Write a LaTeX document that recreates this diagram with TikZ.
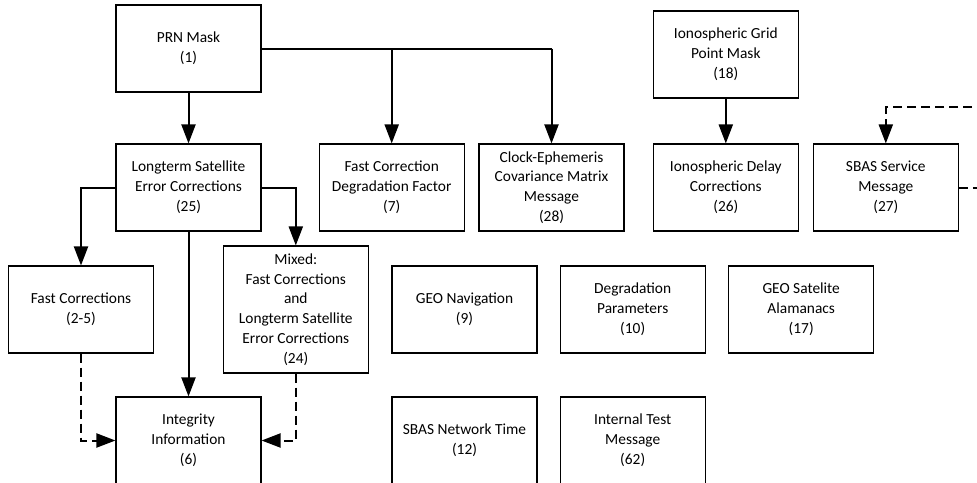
\documentclass[tikz,border=0pt]{standalone}
\usepackage{fontspec}
\setmainfont{Carlito}
\usetikzlibrary{arrows.meta}
\begin{document}
\begin{tikzpicture}[x=1pt,y=-1pt,
  box/.style={draw=black,line width=1.1pt,minimum width=145pt,minimum height=87pt,
    align=center,inner sep=0pt,font=\fontsize{15.4}{19.8}\selectfont},
  tip/.style={-{Triangle[length=19pt 0,width=14pt 0]}},
  conn/.style={line width=2pt,tip},
  plain/.style={line width=2pt},
  dconn/.style={line width=2pt,dash pattern=on 9pt off 5pt,tip},
  dplain/.style={line width=2pt,dash pattern=on 9pt off 5pt}]
\clip (0,0) rectangle (977,482);
\fill[white] (0,0) rectangle (977,482);
\node[box] (prn) at (188.5,48.5) {PRN Mask\\(1)};
\node[box] (lt) at (188.5,187.5) {Longterm Satellite\\Error Corrections\\(25)};
\node[box] (fcdf) at (391.7,187.5) {Fast Correction\\Degradation Factor\\(7)};
\node[box] (cecm) at (551.5,187.5) {Clock-Ephemeris\\Covariance Matrix\\Message\\(28)};
\node[box] (igpm) at (725.8,54.5) {Ionospheric Grid\\Point Mask\\(18)};
\node[box] (idc) at (725.8,187.5) {Ionospheric Delay\\Corrections\\(26)};
\node[box] (sbas) at (885.8,187.5) {SBAS Service\\Message\\(27)};
\node[box] (fc) at (81,309.5) {Fast Corrections\\(2-5)};
\node[box,minimum height=127pt] (mixed) at (295.8,309.5) {Mixed:\\Fast Corrections\\and\\Longterm Satellite\\Error Corrections\\(24)};
\node[box] (integ) at (188.5,440.5) {Integrity\\Information\\(6)};
\node[box] (geo) at (464.5,309.5) {GEO Navigation\\(9)};
\node[box] (degp) at (632.7,309.5) {Degradation\\Parameters\\(10)};
\node[box] (geoalm) at (801.2,309.5) {GEO Satelite\\Alamanacs\\(17)};
\node[box] (snt) at (464.5,440.5) {SBAS Network Time\\(12)};
\node[box] (itm) at (632.7,440.5) {Internal Test\\Message\\(62)};
% connectors
\draw[conn] (prn) -- (lt);
\draw[plain] (prn.east) -- (cecm.north |- prn.east);
\draw[conn] (fcdf.north |- prn.east) -- (fcdf.north);
\draw[conn] (cecm.north |- prn.east) -- (cecm.north);
\draw[conn] (igpm) -- (idc);
\draw[conn] (lt.west) -| (fc.north);
\draw[conn] (lt.east) -| (mixed.north);
\draw[conn] (lt) -- (integ);
\draw[dconn] (fc.south) |- (integ.west);
\draw[dconn] (mixed.south) |- (integ.east);
% feedback loop on SBAS service message (cut at the edge)
\coordinate (loopR) at (1000,187.5);
\coordinate (loopT) at (1000,107.3);
\draw[dplain] (sbas.east) -- (loopR);
\draw[dconn] (loopT) -| (sbas.north);
\end{tikzpicture}
\end{document}
